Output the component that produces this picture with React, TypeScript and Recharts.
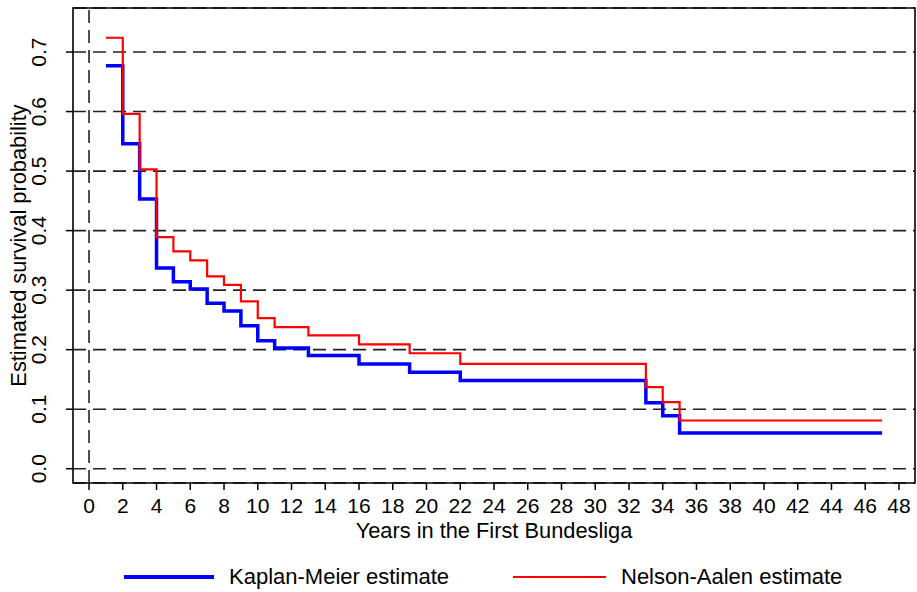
import { LineChart, Line, XAxis, YAxis, CartesianGrid, ReferenceLine, ReferenceArea } from 'recharts'

const years = [1, 2, 3, 4, 5, 6, 7, 8, 9, 10, 11, 13, 16, 19, 22, 33, 34, 35, 47]
const kaplanMeier = [0.677, 0.546, 0.453, 0.337, 0.314, 0.302, 0.278, 0.265, 0.240, 0.215, 0.203, 0.190, 0.176, 0.162, 0.148, 0.111, 0.089, 0.060, 0.060]
const nelsonAalen = [0.724, 0.596, 0.503, 0.389, 0.365, 0.350, 0.323, 0.309, 0.281, 0.253, 0.238, 0.224, 0.209, 0.194, 0.176, 0.137, 0.112, 0.081, 0.081]
const xTicks = [0, 2, 4, 6, 8, 10, 12, 14, 16, 18, 20, 22, 24, 26, 28, 30, 32, 34, 36, 38, 40, 42, 44, 46, 48]
const yTicks = [0, 0.1, 0.2, 0.3, 0.4, 0.5, 0.6, 0.7]

const data = years.map((y, i) => ({ year: y, km: kaplanMeier[i], na: nelsonAalen[i] }))

const FONT = "'Liberation Sans', Arial, sans-serif"
const NARROW = "'Liberation Sans Narrow', 'Liberation Sans', Arial, sans-serif"
const X_DOMAIN = [-0.95, 48.95]
const Y_DOMAIN = [-0.024, 0.774]

function YTick({ x, y, payload }: any) {
  const tx = x - 18
  return (
    <text x={tx} y={y} transform={`rotate(-90, ${tx}, ${y})`} textAnchor="middle"
      fontFamily={NARROW} fontSize={21} fill="#000">
      {payload.value.toFixed(1)}
    </text>
  )
}

export default function App() {
  return (
    <div style={{ position: 'absolute', left: 0, top: 0, width: 917, height: 592, background: '#fff' }}>
      <LineChart width={917} height={592} data={data}
        margin={{ top: 8, right: 2, bottom: 0, left: 0 }}>
        <CartesianGrid horizontal vertical={false} stroke="#222" strokeWidth={1.6} strokeDasharray="13 7" />
        <XAxis dataKey="year" type="number" domain={X_DOMAIN} ticks={xTicks} allowDataOverflow
          height={109} tickSize={7} tickMargin={8} interval={0}
          tick={{ fill: '#000', fontSize: 21, fontFamily: NARROW }}
          axisLine={false} tickLine={{ stroke: '#000', strokeWidth: 1.5 }}
          label={{ value: 'Years in the First Bundesliga', position: 'insideTop', offset: 40, fill: '#000', fontSize: 21.8, fontFamily: FONT }} />
        <YAxis type="number" domain={Y_DOMAIN} ticks={yTicks} allowDataOverflow width={73}
          tickSize={7} tick={<YTick />} axisLine={false} tickLine={{ stroke: '#000', strokeWidth: 1.5 }}
          label={{ value: 'Estimated survival probability', angle: -90, position: 'insideLeft', offset: 18, fill: '#000', fontSize: 21.8, fontFamily: FONT, style: { textAnchor: 'middle' } }} />
        <ReferenceLine x={0} stroke="#222" strokeWidth={1.6} strokeDasharray="13 7" />
        <ReferenceArea x1={X_DOMAIN[0]} x2={X_DOMAIN[1]} y1={Y_DOMAIN[0]} y2={Y_DOMAIN[1]}
          fill="none" stroke="#000" strokeWidth={1.6} ifOverflow="visible" />
        <Line type="stepAfter" dataKey="km" stroke="#0000ff" strokeWidth={3.5} dot={false} isAnimationActive={false} />
        <Line type="stepAfter" dataKey="na" stroke="#ff0000" strokeWidth={2.2} dot={false} isAnimationActive={false} />
      </LineChart>
      <div style={{ position: 'absolute', top: 563, left: 0, width: 917, height: 28, fontFamily: FONT, fontSize: 22 }}>
        <div style={{ position: 'absolute', left: 124, top: 12, width: 90, height: 3.5, background: '#0000ff' }} />
        <div style={{ position: 'absolute', left: 229, top: 0, lineHeight: '28px', whiteSpace: 'nowrap' }}>Kaplan-Meier estimate</div>
        <div style={{ position: 'absolute', left: 513, top: 13, width: 93, height: 2.2, background: '#ff0000' }} />
        <div style={{ position: 'absolute', left: 621, top: 0, lineHeight: '28px', whiteSpace: 'nowrap' }}>Nelson-Aalen estimate</div>
      </div>
    </div>
  )
}
